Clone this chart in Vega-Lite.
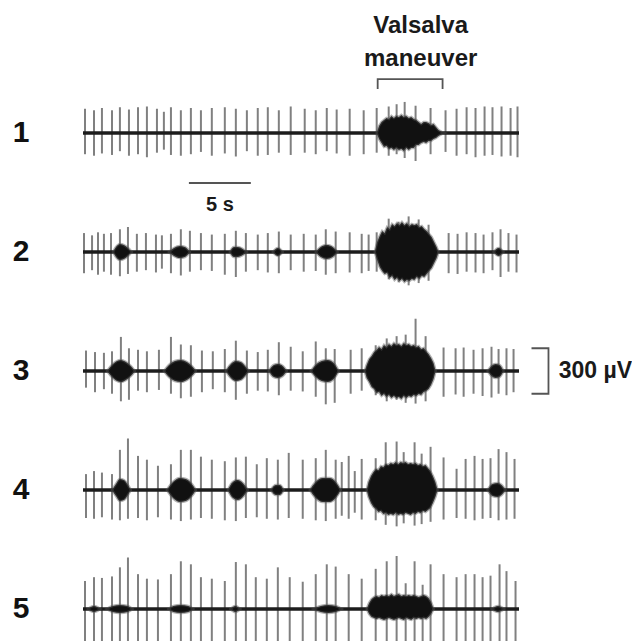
{
  "$schema": "https://vega.github.io/schema/vega-lite/v6.json",
  "background": "white",
  "padding": {"left": 12, "top": 14, "right": 0, "bottom": 0},
  "bounds": "flush",
  "config": {"view": {"stroke": null}, "font": "Liberation Sans"},
  "data": {"values": [
    {"trace":1,"kind":"base","t":0,"t2":35.2,"hi":0},
    {"trace":2,"kind":"base","t":0,"t2":35.2,"hi":0},
    {"trace":3,"kind":"base","t":0,"t2":35.2,"hi":0},
    {"trace":4,"kind":"base","t":0,"t2":35.2,"hi":0},
    {"trace":5,"kind":"base","t":0,"t2":35.2,"hi":0},

    {"trace":1,"kind":"spike","t":0.16,"hi":160,"lo":-140},
    {"trace":1,"kind":"spike","t":0.89,"hi":150,"lo":-150},
    {"trace":1,"kind":"spike","t":1.53,"hi":165,"lo":-135},
    {"trace":1,"kind":"spike","t":2.34,"hi":150,"lo":-145},
    {"trace":1,"kind":"spike","t":2.98,"hi":170,"lo":-120},
    {"trace":1,"kind":"spike","t":3.71,"hi":155,"lo":-150},
    {"trace":1,"kind":"spike","t":4.44,"hi":170,"lo":-140},
    {"trace":1,"kind":"spike","t":5.16,"hi":175,"lo":-160},
    {"trace":1,"kind":"spike","t":5.97,"hi":160,"lo":-130},
    {"trace":1,"kind":"spike","t":6.53,"hi":140,"lo":-110},
    {"trace":1,"kind":"spike","t":7.10,"hi":170,"lo":-145},
    {"trace":1,"kind":"spike","t":7.90,"hi":150,"lo":-150},
    {"trace":1,"kind":"spike","t":8.71,"hi":165,"lo":-140},
    {"trace":1,"kind":"spike","t":9.52,"hi":150,"lo":-125},
    {"trace":1,"kind":"spike","t":10.40,"hi":165,"lo":-150},
    {"trace":1,"kind":"spike","t":11.45,"hi":170,"lo":-135},
    {"trace":1,"kind":"spike","t":12.34,"hi":160,"lo":-155},
    {"trace":1,"kind":"spike","t":13.23,"hi":150,"lo":-120},
    {"trace":1,"kind":"spike","t":14.11,"hi":165,"lo":-150},
    {"trace":1,"kind":"spike","t":14.92,"hi":170,"lo":-145},
    {"trace":1,"kind":"spike","t":15.81,"hi":150,"lo":-130},
    {"trace":1,"kind":"spike","t":16.77,"hi":175,"lo":-145},
    {"trace":1,"kind":"spike","t":17.90,"hi":160,"lo":-130},
    {"trace":1,"kind":"spike","t":18.79,"hi":150,"lo":-140},
    {"trace":1,"kind":"spike","t":19.68,"hi":165,"lo":-120},
    {"trace":1,"kind":"spike","t":20.48,"hi":155,"lo":-135},
    {"trace":1,"kind":"spike","t":21.53,"hi":160,"lo":-150},
    {"trace":1,"kind":"spike","t":22.66,"hi":150,"lo":-140},
    {"trace":1,"kind":"spike","t":23.71,"hi":165,"lo":-130},
    {"trace":1,"kind":"spike","t":24.68,"hi":175,"lo":-150},
    {"trace":1,"kind":"spike","t":25.32,"hi":190,"lo":-140},
    {"trace":1,"kind":"spike","t":25.97,"hi":205,"lo":-165},
    {"trace":1,"kind":"spike","t":26.85,"hi":180,"lo":-185},
    {"trace":1,"kind":"spike","t":28.06,"hi":165,"lo":-140},
    {"trace":1,"kind":"spike","t":29.27,"hi":150,"lo":-125},
    {"trace":1,"kind":"spike","t":30.16,"hi":160,"lo":-150},
    {"trace":1,"kind":"spike","t":30.97,"hi":170,"lo":-140},
    {"trace":1,"kind":"spike","t":31.69,"hi":165,"lo":-160},
    {"trace":1,"kind":"spike","t":32.42,"hi":175,"lo":-150},
    {"trace":1,"kind":"spike","t":33.06,"hi":170,"lo":-145},
    {"trace":1,"kind":"spike","t":33.79,"hi":175,"lo":-155},
    {"trace":1,"kind":"spike","t":34.52,"hi":165,"lo":-150},
    {"trace":1,"kind":"spike","t":35.08,"hi":175,"lo":-160},

    {"trace":2,"kind":"spike","t":0.08,"hi":125,"lo":-140},
    {"trace":2,"kind":"spike","t":0.73,"hi":110,"lo":-120},
    {"trace":2,"kind":"spike","t":1.21,"hi":130,"lo":-150},
    {"trace":2,"kind":"spike","t":1.69,"hi":120,"lo":-130},
    {"trace":2,"kind":"spike","t":2.26,"hi":125,"lo":-150},
    {"trace":2,"kind":"spike","t":2.98,"hi":150,"lo":-160},
    {"trace":2,"kind":"spike","t":3.63,"hi":165,"lo":-145},
    {"trace":2,"kind":"spike","t":4.35,"hi":120,"lo":-130},
    {"trace":2,"kind":"spike","t":5.08,"hi":125,"lo":-120},
    {"trace":2,"kind":"spike","t":5.89,"hi":115,"lo":-135},
    {"trace":2,"kind":"spike","t":6.37,"hi":110,"lo":-110},
    {"trace":2,"kind":"spike","t":7.10,"hi":120,"lo":-140},
    {"trace":2,"kind":"spike","t":7.90,"hi":150,"lo":-155},
    {"trace":2,"kind":"spike","t":8.63,"hi":140,"lo":-130},
    {"trace":2,"kind":"spike","t":9.52,"hi":125,"lo":-120},
    {"trace":2,"kind":"spike","t":10.40,"hi":115,"lo":-125},
    {"trace":2,"kind":"spike","t":11.45,"hi":120,"lo":-150},
    {"trace":2,"kind":"spike","t":12.34,"hi":140,"lo":-165},
    {"trace":2,"kind":"spike","t":13.15,"hi":125,"lo":-130},
    {"trace":2,"kind":"spike","t":14.11,"hi":115,"lo":-120},
    {"trace":2,"kind":"spike","t":14.92,"hi":125,"lo":-135},
    {"trace":2,"kind":"spike","t":15.81,"hi":135,"lo":-140},
    {"trace":2,"kind":"spike","t":16.77,"hi":115,"lo":-120},
    {"trace":2,"kind":"spike","t":17.82,"hi":120,"lo":-130},
    {"trace":2,"kind":"spike","t":18.79,"hi":115,"lo":-125},
    {"trace":2,"kind":"spike","t":19.60,"hi":150,"lo":-150},
    {"trace":2,"kind":"spike","t":20.40,"hi":135,"lo":-140},
    {"trace":2,"kind":"spike","t":21.53,"hi":130,"lo":-135},
    {"trace":2,"kind":"spike","t":22.50,"hi":120,"lo":-140},
    {"trace":2,"kind":"spike","t":23.06,"hi":115,"lo":-125},
    {"trace":2,"kind":"spike","t":23.71,"hi":130,"lo":-130},
    {"trace":2,"kind":"spike","t":24.68,"hi":220,"lo":-180},
    {"trace":2,"kind":"spike","t":25.48,"hi":200,"lo":-200},
    {"trace":2,"kind":"spike","t":26.29,"hi":235,"lo":-220},
    {"trace":2,"kind":"spike","t":27.10,"hi":215,"lo":-205},
    {"trace":2,"kind":"spike","t":27.90,"hi":180,"lo":-190},
    {"trace":2,"kind":"spike","t":29.52,"hi":125,"lo":-140},
    {"trace":2,"kind":"spike","t":30.24,"hi":120,"lo":-145},
    {"trace":2,"kind":"spike","t":30.97,"hi":130,"lo":-130},
    {"trace":2,"kind":"spike","t":31.69,"hi":125,"lo":-135},
    {"trace":2,"kind":"spike","t":32.34,"hi":115,"lo":-140},
    {"trace":2,"kind":"spike","t":33.06,"hi":130,"lo":-120},
    {"trace":2,"kind":"spike","t":33.71,"hi":150,"lo":-165},
    {"trace":2,"kind":"spike","t":34.35,"hi":125,"lo":-130},
    {"trace":2,"kind":"spike","t":35.00,"hi":115,"lo":-135},

    {"trace":3,"kind":"spike","t":0.24,"hi":135,"lo":-110},
    {"trace":3,"kind":"spike","t":0.97,"hi":125,"lo":-140},
    {"trace":3,"kind":"spike","t":1.69,"hi":120,"lo":-120},
    {"trace":3,"kind":"spike","t":2.34,"hi":130,"lo":-150},
    {"trace":3,"kind":"spike","t":3.06,"hi":225,"lo":-200},
    {"trace":3,"kind":"spike","t":3.71,"hi":150,"lo":-190},
    {"trace":3,"kind":"spike","t":4.44,"hi":140,"lo":-130},
    {"trace":3,"kind":"spike","t":5.16,"hi":130,"lo":-140},
    {"trace":3,"kind":"spike","t":6.13,"hi":140,"lo":-125},
    {"trace":3,"kind":"spike","t":7.10,"hi":225,"lo":-150},
    {"trace":3,"kind":"spike","t":7.90,"hi":175,"lo":-180},
    {"trace":3,"kind":"spike","t":8.71,"hi":170,"lo":-170},
    {"trace":3,"kind":"spike","t":9.60,"hi":135,"lo":-140},
    {"trace":3,"kind":"spike","t":10.48,"hi":130,"lo":-120},
    {"trace":3,"kind":"spike","t":11.45,"hi":145,"lo":-140},
    {"trace":3,"kind":"spike","t":12.34,"hi":200,"lo":-190},
    {"trace":3,"kind":"spike","t":13.23,"hi":135,"lo":-150},
    {"trace":3,"kind":"spike","t":14.11,"hi":125,"lo":-130},
    {"trace":3,"kind":"spike","t":14.92,"hi":140,"lo":-135},
    {"trace":3,"kind":"spike","t":15.81,"hi":190,"lo":-160},
    {"trace":3,"kind":"spike","t":16.77,"hi":160,"lo":-130},
    {"trace":3,"kind":"spike","t":17.74,"hi":130,"lo":-135},
    {"trace":3,"kind":"spike","t":18.79,"hi":195,"lo":-170},
    {"trace":3,"kind":"spike","t":19.60,"hi":150,"lo":-220},
    {"trace":3,"kind":"spike","t":20.32,"hi":145,"lo":-210},
    {"trace":3,"kind":"spike","t":21.61,"hi":140,"lo":-150},
    {"trace":3,"kind":"spike","t":22.50,"hi":150,"lo":-130},
    {"trace":3,"kind":"spike","t":23.63,"hi":170,"lo":-160},
    {"trace":3,"kind":"spike","t":24.52,"hi":215,"lo":-200},
    {"trace":3,"kind":"spike","t":25.32,"hi":230,"lo":-190},
    {"trace":3,"kind":"spike","t":26.05,"hi":240,"lo":-210},
    {"trace":3,"kind":"spike","t":26.85,"hi":345,"lo":-215},
    {"trace":3,"kind":"spike","t":27.66,"hi":230,"lo":-200},
    {"trace":3,"kind":"spike","t":29.11,"hi":155,"lo":-170},
    {"trace":3,"kind":"spike","t":30.08,"hi":150,"lo":-155},
    {"trace":3,"kind":"spike","t":30.73,"hi":155,"lo":-170},
    {"trace":3,"kind":"spike","t":31.53,"hi":140,"lo":-150},
    {"trace":3,"kind":"spike","t":32.26,"hi":150,"lo":-165},
    {"trace":3,"kind":"spike","t":32.98,"hi":160,"lo":-175},
    {"trace":3,"kind":"spike","t":33.55,"hi":145,"lo":-150},
    {"trace":3,"kind":"spike","t":34.19,"hi":150,"lo":-160},
    {"trace":3,"kind":"spike","t":34.76,"hi":145,"lo":-140},

    {"trace":4,"kind":"spike","t":0.24,"hi":105,"lo":-185},
    {"trace":4,"kind":"spike","t":0.89,"hi":125,"lo":-190},
    {"trace":4,"kind":"spike","t":1.53,"hi":115,"lo":-180},
    {"trace":4,"kind":"spike","t":2.34,"hi":105,"lo":-195},
    {"trace":4,"kind":"spike","t":2.98,"hi":265,"lo":-200},
    {"trace":4,"kind":"spike","t":3.63,"hi":340,"lo":-190},
    {"trace":4,"kind":"spike","t":4.44,"hi":225,"lo":-185},
    {"trace":4,"kind":"spike","t":5.16,"hi":200,"lo":-200},
    {"trace":4,"kind":"spike","t":6.05,"hi":160,"lo":-180},
    {"trace":4,"kind":"spike","t":7.10,"hi":170,"lo":-195},
    {"trace":4,"kind":"spike","t":7.90,"hi":265,"lo":-205},
    {"trace":4,"kind":"spike","t":8.71,"hi":265,"lo":-195},
    {"trace":4,"kind":"spike","t":9.52,"hi":220,"lo":-185},
    {"trace":4,"kind":"spike","t":10.40,"hi":200,"lo":-190},
    {"trace":4,"kind":"spike","t":11.45,"hi":190,"lo":-200},
    {"trace":4,"kind":"spike","t":12.34,"hi":215,"lo":-205},
    {"trace":4,"kind":"spike","t":13.15,"hi":220,"lo":-185},
    {"trace":4,"kind":"spike","t":14.03,"hi":170,"lo":-180},
    {"trace":4,"kind":"spike","t":14.84,"hi":210,"lo":-190},
    {"trace":4,"kind":"spike","t":15.73,"hi":200,"lo":-195},
    {"trace":4,"kind":"spike","t":16.61,"hi":245,"lo":-185},
    {"trace":4,"kind":"spike","t":17.74,"hi":200,"lo":-190},
    {"trace":4,"kind":"spike","t":18.79,"hi":210,"lo":-200},
    {"trace":4,"kind":"spike","t":19.60,"hi":265,"lo":-205},
    {"trace":4,"kind":"spike","t":20.40,"hi":200,"lo":-190},
    {"trace":4,"kind":"spike","t":20.89,"hi":185,"lo":-170},
    {"trace":4,"kind":"spike","t":21.45,"hi":225,"lo":-190},
    {"trace":4,"kind":"spike","t":21.94,"hi":125,"lo":-150},
    {"trace":4,"kind":"spike","t":22.50,"hi":205,"lo":-195},
    {"trace":4,"kind":"spike","t":23.63,"hi":210,"lo":-200},
    {"trace":4,"kind":"spike","t":24.44,"hi":315,"lo":-230},
    {"trace":4,"kind":"spike","t":25.32,"hi":320,"lo":-240},
    {"trace":4,"kind":"spike","t":25.89,"hi":250,"lo":-220},
    {"trace":4,"kind":"spike","t":26.77,"hi":315,"lo":-235},
    {"trace":4,"kind":"spike","t":27.34,"hi":240,"lo":-225},
    {"trace":4,"kind":"spike","t":28.06,"hi":285,"lo":-210},
    {"trace":4,"kind":"spike","t":29.11,"hi":215,"lo":-195},
    {"trace":4,"kind":"spike","t":30.16,"hi":140,"lo":-185},
    {"trace":4,"kind":"spike","t":30.89,"hi":205,"lo":-190},
    {"trace":4,"kind":"spike","t":31.61,"hi":225,"lo":-200},
    {"trace":4,"kind":"spike","t":32.26,"hi":205,"lo":-190},
    {"trace":4,"kind":"spike","t":32.90,"hi":210,"lo":-185},
    {"trace":4,"kind":"spike","t":33.55,"hi":270,"lo":-200},
    {"trace":4,"kind":"spike","t":34.19,"hi":250,"lo":-195},
    {"trace":4,"kind":"spike","t":34.84,"hi":205,"lo":-190},

    {"trace":5,"kind":"spike","t":0.16,"hi":185,"lo":-240},
    {"trace":5,"kind":"spike","t":0.89,"hi":210,"lo":-250},
    {"trace":5,"kind":"spike","t":1.53,"hi":205,"lo":-235},
    {"trace":5,"kind":"spike","t":2.34,"hi":215,"lo":-245},
    {"trace":5,"kind":"spike","t":2.98,"hi":275,"lo":-250},
    {"trace":5,"kind":"spike","t":3.63,"hi":340,"lo":-240},
    {"trace":5,"kind":"spike","t":4.44,"hi":230,"lo":-250},
    {"trace":5,"kind":"spike","t":5.16,"hi":200,"lo":-235},
    {"trace":5,"kind":"spike","t":6.05,"hi":195,"lo":-245},
    {"trace":5,"kind":"spike","t":7.10,"hi":230,"lo":-250},
    {"trace":5,"kind":"spike","t":7.90,"hi":315,"lo":-245},
    {"trace":5,"kind":"spike","t":8.71,"hi":295,"lo":-240},
    {"trace":5,"kind":"spike","t":9.52,"hi":210,"lo":-250},
    {"trace":5,"kind":"spike","t":10.40,"hi":200,"lo":-245},
    {"trace":5,"kind":"spike","t":11.45,"hi":185,"lo":-240},
    {"trace":5,"kind":"spike","t":12.34,"hi":310,"lo":-250},
    {"trace":5,"kind":"spike","t":13.15,"hi":295,"lo":-245},
    {"trace":5,"kind":"spike","t":13.95,"hi":210,"lo":-240},
    {"trace":5,"kind":"spike","t":14.84,"hi":200,"lo":-250},
    {"trace":5,"kind":"spike","t":15.73,"hi":275,"lo":-245},
    {"trace":5,"kind":"spike","t":16.69,"hi":210,"lo":-240},
    {"trace":5,"kind":"spike","t":17.74,"hi":180,"lo":-250},
    {"trace":5,"kind":"spike","t":18.79,"hi":230,"lo":-245},
    {"trace":5,"kind":"spike","t":19.68,"hi":295,"lo":-240},
    {"trace":5,"kind":"spike","t":20.40,"hi":280,"lo":-250},
    {"trace":5,"kind":"spike","t":21.45,"hi":230,"lo":-245},
    {"trace":5,"kind":"spike","t":22.50,"hi":200,"lo":-250},
    {"trace":5,"kind":"spike","t":23.63,"hi":265,"lo":-240},
    {"trace":5,"kind":"spike","t":24.52,"hi":315,"lo":-250},
    {"trace":5,"kind":"spike","t":25.32,"hi":350,"lo":-245},
    {"trace":5,"kind":"spike","t":26.05,"hi":170,"lo":-240},
    {"trace":5,"kind":"spike","t":26.77,"hi":315,"lo":-250},
    {"trace":5,"kind":"spike","t":27.42,"hi":160,"lo":-245},
    {"trace":5,"kind":"spike","t":28.06,"hi":295,"lo":-240},
    {"trace":5,"kind":"spike","t":29.11,"hi":230,"lo":-250},
    {"trace":5,"kind":"spike","t":30.16,"hi":210,"lo":-245},
    {"trace":5,"kind":"spike","t":30.89,"hi":230,"lo":-240},
    {"trace":5,"kind":"spike","t":31.61,"hi":230,"lo":-250},
    {"trace":5,"kind":"spike","t":32.26,"hi":210,"lo":-245},
    {"trace":5,"kind":"spike","t":32.90,"hi":220,"lo":-240},
    {"trace":5,"kind":"spike","t":33.63,"hi":295,"lo":-250},
    {"trace":5,"kind":"spike","t":34.19,"hi":250,"lo":-245},
    {"trace":5,"kind":"spike","t":34.92,"hi":185,"lo":-240},

    {"trace":1,"kind":"episode","burst":"1v","t":23.71,"hi":0,"lo":0},
    {"trace":1,"kind":"episode","burst":"1v","t":23.90,"hi":46,"lo":-40},
    {"trace":1,"kind":"episode","burst":"1v","t":24.10,"hi":72,"lo":-66},
    {"trace":1,"kind":"episode","burst":"1v","t":24.30,"hi":86,"lo":-92},
    {"trace":1,"kind":"episode","burst":"1v","t":24.50,"hi":99,"lo":-86},
    {"trace":1,"kind":"episode","burst":"1v","t":24.70,"hi":92,"lo":-106},
    {"trace":1,"kind":"episode","burst":"1v","t":24.90,"hi":112,"lo":-99},
    {"trace":1,"kind":"episode","burst":"1v","t":25.10,"hi":99,"lo":-112},
    {"trace":1,"kind":"episode","burst":"1v","t":25.30,"hi":112,"lo":-99},
    {"trace":1,"kind":"episode","burst":"1v","t":25.50,"hi":106,"lo":-112},
    {"trace":1,"kind":"episode","burst":"1v","t":25.70,"hi":119,"lo":-106},
    {"trace":1,"kind":"episode","burst":"1v","t":25.90,"hi":106,"lo":-119},
    {"trace":1,"kind":"episode","burst":"1v","t":26.10,"hi":112,"lo":-99},
    {"trace":1,"kind":"episode","burst":"1v","t":26.30,"hi":99,"lo":-112},
    {"trace":1,"kind":"episode","burst":"1v","t":26.50,"hi":106,"lo":-99},
    {"trace":1,"kind":"episode","burst":"1v","t":26.70,"hi":92,"lo":-99},
    {"trace":1,"kind":"episode","burst":"1v","t":26.90,"hi":86,"lo":-79},
    {"trace":1,"kind":"episode","burst":"1v","t":27.10,"hi":72,"lo":-79},
    {"trace":1,"kind":"episode","burst":"1v","t":27.30,"hi":59,"lo":-66},
    {"trace":1,"kind":"episode","burst":"1v","t":27.50,"hi":72,"lo":-59},
    {"trace":1,"kind":"episode","burst":"1v","t":27.70,"hi":72,"lo":-66},
    {"trace":1,"kind":"episode","burst":"1v","t":27.90,"hi":66,"lo":-53},
    {"trace":1,"kind":"episode","burst":"1v","t":28.10,"hi":53,"lo":-53},
    {"trace":1,"kind":"episode","burst":"1v","t":28.30,"hi":59,"lo":-40},
    {"trace":1,"kind":"episode","burst":"1v","t":28.50,"hi":40,"lo":-33},
    {"trace":1,"kind":"episode","burst":"1v","t":28.70,"hi":20,"lo":-20},
    {"trace":1,"kind":"episode","burst":"1v","t":28.95,"hi":8,"lo":-8},
    {"trace":1,"kind":"episode","burst":"1v","t":29.19,"hi":0,"lo":0},

    {"trace":2,"kind":"episode","burst":"2v","t":23.55,"hi":0,"lo":0},
    {"trace":2,"kind":"episode","burst":"2v","t":23.75,"hi":66,"lo":-53},
    {"trace":2,"kind":"episode","burst":"2v","t":23.95,"hi":106,"lo":-99},
    {"trace":2,"kind":"episode","burst":"2v","t":24.15,"hi":139,"lo":-125},
    {"trace":2,"kind":"episode","burst":"2v","t":24.35,"hi":125,"lo":-145},
    {"trace":2,"kind":"episode","burst":"2v","t":24.55,"hi":165,"lo":-139},
    {"trace":2,"kind":"episode","burst":"2v","t":24.75,"hi":152,"lo":-172},
    {"trace":2,"kind":"episode","burst":"2v","t":24.95,"hi":185,"lo":-158},
    {"trace":2,"kind":"episode","burst":"2v","t":25.15,"hi":172,"lo":-185},
    {"trace":2,"kind":"episode","burst":"2v","t":25.35,"hi":192,"lo":-172},
    {"trace":2,"kind":"episode","burst":"2v","t":25.55,"hi":178,"lo":-192},
    {"trace":2,"kind":"episode","burst":"2v","t":25.75,"hi":198,"lo":-178},
    {"trace":2,"kind":"episode","burst":"2v","t":25.95,"hi":178,"lo":-198},
    {"trace":2,"kind":"episode","burst":"2v","t":26.15,"hi":192,"lo":-185},
    {"trace":2,"kind":"episode","burst":"2v","t":26.35,"hi":172,"lo":-192},
    {"trace":2,"kind":"episode","burst":"2v","t":26.55,"hi":185,"lo":-178},
    {"trace":2,"kind":"episode","burst":"2v","t":26.75,"hi":178,"lo":-185},
    {"trace":2,"kind":"episode","burst":"2v","t":26.95,"hi":185,"lo":-165},
    {"trace":2,"kind":"episode","burst":"2v","t":27.15,"hi":165,"lo":-178},
    {"trace":2,"kind":"episode","burst":"2v","t":27.35,"hi":172,"lo":-158},
    {"trace":2,"kind":"episode","burst":"2v","t":27.55,"hi":152,"lo":-165},
    {"trace":2,"kind":"episode","burst":"2v","t":27.75,"hi":139,"lo":-145},
    {"trace":2,"kind":"episode","burst":"2v","t":27.95,"hi":119,"lo":-125},
    {"trace":2,"kind":"episode","burst":"2v","t":28.15,"hi":99,"lo":-106},
    {"trace":2,"kind":"episode","burst":"2v","t":28.35,"hi":66,"lo":-72},
    {"trace":2,"kind":"episode","burst":"2v","t":28.55,"hi":33,"lo":-40},
    {"trace":2,"kind":"episode","burst":"2v","t":28.71,"hi":0,"lo":0},

    {"trace":3,"kind":"episode","burst":"3v","t":22.74,"hi":0,"lo":0},
    {"trace":3,"kind":"episode","burst":"3v","t":22.90,"hi":40,"lo":-46},
    {"trace":3,"kind":"episode","burst":"3v","t":23.10,"hi":79,"lo":-72},
    {"trace":3,"kind":"episode","burst":"3v","t":23.30,"hi":99,"lo":-106},
    {"trace":3,"kind":"episode","burst":"3v","t":23.50,"hi":125,"lo":-119},
    {"trace":3,"kind":"episode","burst":"3v","t":23.70,"hi":139,"lo":-145},
    {"trace":3,"kind":"episode","burst":"3v","t":23.90,"hi":158,"lo":-139},
    {"trace":3,"kind":"episode","burst":"3v","t":24.10,"hi":145,"lo":-165},
    {"trace":3,"kind":"episode","burst":"3v","t":24.30,"hi":172,"lo":-152},
    {"trace":3,"kind":"episode","burst":"3v","t":24.50,"hi":158,"lo":-172},
    {"trace":3,"kind":"episode","burst":"3v","t":24.70,"hi":178,"lo":-158},
    {"trace":3,"kind":"episode","burst":"3v","t":24.90,"hi":165,"lo":-178},
    {"trace":3,"kind":"episode","burst":"3v","t":25.10,"hi":185,"lo":-165},
    {"trace":3,"kind":"episode","burst":"3v","t":25.30,"hi":172,"lo":-178},
    {"trace":3,"kind":"episode","burst":"3v","t":25.50,"hi":178,"lo":-172},
    {"trace":3,"kind":"episode","burst":"3v","t":25.70,"hi":165,"lo":-185},
    {"trace":3,"kind":"episode","burst":"3v","t":25.90,"hi":185,"lo":-165},
    {"trace":3,"kind":"episode","burst":"3v","t":26.10,"hi":172,"lo":-178},
    {"trace":3,"kind":"episode","burst":"3v","t":26.30,"hi":178,"lo":-165},
    {"trace":3,"kind":"episode","burst":"3v","t":26.50,"hi":165,"lo":-172},
    {"trace":3,"kind":"episode","burst":"3v","t":26.70,"hi":172,"lo":-158},
    {"trace":3,"kind":"episode","burst":"3v","t":26.90,"hi":158,"lo":-165},
    {"trace":3,"kind":"episode","burst":"3v","t":27.10,"hi":165,"lo":-152},
    {"trace":3,"kind":"episode","burst":"3v","t":27.30,"hi":145,"lo":-158},
    {"trace":3,"kind":"episode","burst":"3v","t":27.50,"hi":152,"lo":-139},
    {"trace":3,"kind":"episode","burst":"3v","t":27.70,"hi":132,"lo":-132},
    {"trace":3,"kind":"episode","burst":"3v","t":27.90,"hi":112,"lo":-119},
    {"trace":3,"kind":"episode","burst":"3v","t":28.10,"hi":86,"lo":-92},
    {"trace":3,"kind":"episode","burst":"3v","t":28.30,"hi":53,"lo":-53},
    {"trace":3,"kind":"episode","burst":"3v","t":28.47,"hi":0,"lo":0},

    {"trace":4,"kind":"episode","burst":"4v","t":22.90,"hi":0,"lo":0},
    {"trace":4,"kind":"episode","burst":"4v","t":23.05,"hi":53,"lo":-46},
    {"trace":4,"kind":"episode","burst":"4v","t":23.25,"hi":92,"lo":-86},
    {"trace":4,"kind":"episode","burst":"4v","t":23.45,"hi":119,"lo":-112},
    {"trace":4,"kind":"episode","burst":"4v","t":23.65,"hi":139,"lo":-125},
    {"trace":4,"kind":"episode","burst":"4v","t":23.85,"hi":132,"lo":-145},
    {"trace":4,"kind":"episode","burst":"4v","t":24.05,"hi":158,"lo":-139},
    {"trace":4,"kind":"episode","burst":"4v","t":24.25,"hi":152,"lo":-158},
    {"trace":4,"kind":"episode","burst":"4v","t":24.45,"hi":172,"lo":-152},
    {"trace":4,"kind":"episode","burst":"4v","t":24.65,"hi":165,"lo":-165},
    {"trace":4,"kind":"episode","burst":"4v","t":24.85,"hi":178,"lo":-158},
    {"trace":4,"kind":"episode","burst":"4v","t":25.05,"hi":172,"lo":-165},
    {"trace":4,"kind":"episode","burst":"4v","t":25.25,"hi":185,"lo":-152},
    {"trace":4,"kind":"episode","burst":"4v","t":25.45,"hi":172,"lo":-165},
    {"trace":4,"kind":"episode","burst":"4v","t":25.65,"hi":185,"lo":-158},
    {"trace":4,"kind":"episode","burst":"4v","t":25.85,"hi":178,"lo":-165},
    {"trace":4,"kind":"episode","burst":"4v","t":26.05,"hi":185,"lo":-152},
    {"trace":4,"kind":"episode","burst":"4v","t":26.25,"hi":172,"lo":-158},
    {"trace":4,"kind":"episode","burst":"4v","t":26.45,"hi":178,"lo":-165},
    {"trace":4,"kind":"episode","burst":"4v","t":26.65,"hi":172,"lo":-152},
    {"trace":4,"kind":"episode","burst":"4v","t":26.85,"hi":178,"lo":-158},
    {"trace":4,"kind":"episode","burst":"4v","t":27.05,"hi":165,"lo":-145},
    {"trace":4,"kind":"episode","burst":"4v","t":27.25,"hi":172,"lo":-152},
    {"trace":4,"kind":"episode","burst":"4v","t":27.45,"hi":158,"lo":-139},
    {"trace":4,"kind":"episode","burst":"4v","t":27.65,"hi":165,"lo":-145},
    {"trace":4,"kind":"episode","burst":"4v","t":27.85,"hi":145,"lo":-132},
    {"trace":4,"kind":"episode","burst":"4v","t":28.05,"hi":125,"lo":-119},
    {"trace":4,"kind":"episode","burst":"4v","t":28.25,"hi":92,"lo":-86},
    {"trace":4,"kind":"episode","burst":"4v","t":28.45,"hi":53,"lo":-46},
    {"trace":4,"kind":"episode","burst":"4v","t":28.63,"hi":0,"lo":0},

    {"trace":5,"kind":"episode","burst":"5v","t":22.90,"hi":0,"lo":0},
    {"trace":5,"kind":"episode","burst":"5v","t":23.10,"hi":40,"lo":-33},
    {"trace":5,"kind":"episode","burst":"5v","t":23.30,"hi":66,"lo":-53},
    {"trace":5,"kind":"episode","burst":"5v","t":23.50,"hi":79,"lo":-59},
    {"trace":5,"kind":"episode","burst":"5v","t":23.70,"hi":86,"lo":-66},
    {"trace":5,"kind":"episode","burst":"5v","t":23.90,"hi":79,"lo":-59},
    {"trace":5,"kind":"episode","burst":"5v","t":24.10,"hi":92,"lo":-66},
    {"trace":5,"kind":"episode","burst":"5v","t":24.30,"hi":86,"lo":-72},
    {"trace":5,"kind":"episode","burst":"5v","t":24.50,"hi":92,"lo":-66},
    {"trace":5,"kind":"episode","burst":"5v","t":24.70,"hi":86,"lo":-59},
    {"trace":5,"kind":"episode","burst":"5v","t":24.90,"hi":99,"lo":-66},
    {"trace":5,"kind":"episode","burst":"5v","t":25.10,"hi":86,"lo":-72},
    {"trace":5,"kind":"episode","burst":"5v","t":25.30,"hi":92,"lo":-66},
    {"trace":5,"kind":"episode","burst":"5v","t":25.50,"hi":99,"lo":-59},
    {"trace":5,"kind":"episode","burst":"5v","t":25.70,"hi":86,"lo":-66},
    {"trace":5,"kind":"episode","burst":"5v","t":25.90,"hi":92,"lo":-72},
    {"trace":5,"kind":"episode","burst":"5v","t":26.10,"hi":86,"lo":-59},
    {"trace":5,"kind":"episode","burst":"5v","t":26.30,"hi":92,"lo":-66},
    {"trace":5,"kind":"episode","burst":"5v","t":26.50,"hi":86,"lo":-72},
    {"trace":5,"kind":"episode","burst":"5v","t":26.70,"hi":92,"lo":-59},
    {"trace":5,"kind":"episode","burst":"5v","t":26.90,"hi":86,"lo":-66},
    {"trace":5,"kind":"episode","burst":"5v","t":27.10,"hi":79,"lo":-59},
    {"trace":5,"kind":"episode","burst":"5v","t":27.30,"hi":86,"lo":-66},
    {"trace":5,"kind":"episode","burst":"5v","t":27.50,"hi":92,"lo":-59},
    {"trace":5,"kind":"episode","burst":"5v","t":27.70,"hi":86,"lo":-66},
    {"trace":5,"kind":"episode","burst":"5v","t":27.90,"hi":72,"lo":-53},
    {"trace":5,"kind":"episode","burst":"5v","t":28.10,"hi":46,"lo":-33},
    {"trace":5,"kind":"episode","burst":"5v","t":28.31,"hi":0,"lo":0},

    {"trace":2,"kind":"burst","burst":"2a","t":2.42,"hi":0,"lo":0},
    {"trace":2,"kind":"burst","burst":"2a","t":2.66,"hi":33,"lo":-33},
    {"trace":2,"kind":"burst","burst":"2a","t":2.98,"hi":53,"lo":-53},
    {"trace":2,"kind":"burst","burst":"2a","t":3.31,"hi":46,"lo":-46},
    {"trace":2,"kind":"burst","burst":"2a","t":3.63,"hi":26,"lo":-26},
    {"trace":2,"kind":"burst","burst":"2a","t":3.95,"hi":0,"lo":0},
    {"trace":2,"kind":"burst","burst":"2b","t":6.94,"hi":0,"lo":0},
    {"trace":2,"kind":"burst","burst":"2b","t":7.34,"hi":26,"lo":-26},
    {"trace":2,"kind":"burst","burst":"2b","t":7.82,"hi":40,"lo":-40},
    {"trace":2,"kind":"burst","burst":"2b","t":8.23,"hi":33,"lo":-33},
    {"trace":2,"kind":"burst","burst":"2b","t":8.63,"hi":0,"lo":0},
    {"trace":2,"kind":"burst","burst":"2c","t":11.85,"hi":0,"lo":0},
    {"trace":2,"kind":"burst","burst":"2c","t":12.18,"hi":33,"lo":-33},
    {"trace":2,"kind":"burst","burst":"2c","t":12.50,"hi":33,"lo":-33},
    {"trace":2,"kind":"burst","burst":"2c","t":12.90,"hi":20,"lo":-20},
    {"trace":2,"kind":"burst","burst":"2c","t":13.23,"hi":0,"lo":0},
    {"trace":2,"kind":"burst","burst":"2d","t":15.32,"hi":0,"lo":0},
    {"trace":2,"kind":"burst","burst":"2d","t":15.73,"hi":26,"lo":-26},
    {"trace":2,"kind":"burst","burst":"2d","t":16.13,"hi":0,"lo":0},
    {"trace":2,"kind":"burst","burst":"2e","t":18.79,"hi":0,"lo":0},
    {"trace":2,"kind":"burst","burst":"2e","t":19.19,"hi":33,"lo":-33},
    {"trace":2,"kind":"burst","burst":"2e","t":19.68,"hi":46,"lo":-46},
    {"trace":2,"kind":"burst","burst":"2e","t":20.16,"hi":33,"lo":-33},
    {"trace":2,"kind":"burst","burst":"2e","t":20.56,"hi":0,"lo":0},
    {"trace":2,"kind":"burst","burst":"2f","t":33.15,"hi":0,"lo":0},
    {"trace":2,"kind":"burst","burst":"2f","t":33.55,"hi":26,"lo":-26},
    {"trace":2,"kind":"burst","burst":"2f","t":33.95,"hi":0,"lo":0},

    {"trace":3,"kind":"burst","burst":"3a","t":1.94,"hi":0,"lo":0},
    {"trace":3,"kind":"burst","burst":"3a","t":2.34,"hi":40,"lo":-40},
    {"trace":3,"kind":"burst","burst":"3a","t":2.74,"hi":66,"lo":-66},
    {"trace":3,"kind":"burst","burst":"3a","t":3.06,"hi":73,"lo":-73},
    {"trace":3,"kind":"burst","burst":"3a","t":3.47,"hi":59,"lo":-59},
    {"trace":3,"kind":"burst","burst":"3a","t":3.87,"hi":33,"lo":-33},
    {"trace":3,"kind":"burst","burst":"3a","t":4.19,"hi":0,"lo":0},
    {"trace":3,"kind":"burst","burst":"3b","t":6.53,"hi":0,"lo":0},
    {"trace":3,"kind":"burst","burst":"3b","t":6.94,"hi":40,"lo":-40},
    {"trace":3,"kind":"burst","burst":"3b","t":7.42,"hi":66,"lo":-66},
    {"trace":3,"kind":"burst","burst":"3b","t":7.90,"hi":73,"lo":-73},
    {"trace":3,"kind":"burst","burst":"3b","t":8.39,"hi":59,"lo":-59},
    {"trace":3,"kind":"burst","burst":"3b","t":8.79,"hi":33,"lo":-33},
    {"trace":3,"kind":"burst","burst":"3b","t":9.11,"hi":0,"lo":0},
    {"trace":3,"kind":"burst","burst":"3c","t":11.53,"hi":0,"lo":0},
    {"trace":3,"kind":"burst","burst":"3c","t":11.94,"hi":46,"lo":-46},
    {"trace":3,"kind":"burst","burst":"3c","t":12.34,"hi":66,"lo":-66},
    {"trace":3,"kind":"burst","burst":"3c","t":12.74,"hi":59,"lo":-59},
    {"trace":3,"kind":"burst","burst":"3c","t":13.15,"hi":26,"lo":-26},
    {"trace":3,"kind":"burst","burst":"3c","t":13.39,"hi":0,"lo":0},
    {"trace":3,"kind":"burst","burst":"3d","t":15.00,"hi":0,"lo":0},
    {"trace":3,"kind":"burst","burst":"3d","t":15.40,"hi":40,"lo":-40},
    {"trace":3,"kind":"burst","burst":"3d","t":15.73,"hi":46,"lo":-46},
    {"trace":3,"kind":"burst","burst":"3d","t":16.13,"hi":33,"lo":-33},
    {"trace":3,"kind":"burst","burst":"3d","t":16.45,"hi":0,"lo":0},
    {"trace":3,"kind":"burst","burst":"3e","t":18.39,"hi":0,"lo":0},
    {"trace":3,"kind":"burst","burst":"3e","t":18.79,"hi":40,"lo":-40},
    {"trace":3,"kind":"burst","burst":"3e","t":19.27,"hi":66,"lo":-66},
    {"trace":3,"kind":"burst","burst":"3e","t":19.76,"hi":73,"lo":-73},
    {"trace":3,"kind":"burst","burst":"3e","t":20.24,"hi":53,"lo":-53},
    {"trace":3,"kind":"burst","burst":"3e","t":20.65,"hi":0,"lo":0},
    {"trace":3,"kind":"burst","burst":"3f","t":32.66,"hi":0,"lo":0},
    {"trace":3,"kind":"burst","burst":"3f","t":32.98,"hi":33,"lo":-33},
    {"trace":3,"kind":"burst","burst":"3f","t":33.31,"hi":46,"lo":-46},
    {"trace":3,"kind":"burst","burst":"3f","t":33.63,"hi":40,"lo":-40},
    {"trace":3,"kind":"burst","burst":"3f","t":33.95,"hi":0,"lo":0},

    {"trace":4,"kind":"burst","burst":"4a","t":2.34,"hi":0,"lo":0},
    {"trace":4,"kind":"burst","burst":"4a","t":2.66,"hi":40,"lo":-40},
    {"trace":4,"kind":"burst","burst":"4a","t":2.98,"hi":73,"lo":-73},
    {"trace":4,"kind":"burst","burst":"4a","t":3.31,"hi":66,"lo":-66},
    {"trace":4,"kind":"burst","burst":"4a","t":3.63,"hi":33,"lo":-33},
    {"trace":4,"kind":"burst","burst":"4a","t":3.87,"hi":0,"lo":0},
    {"trace":4,"kind":"burst","burst":"4b","t":6.77,"hi":0,"lo":0},
    {"trace":4,"kind":"burst","burst":"4b","t":7.26,"hi":53,"lo":-53},
    {"trace":4,"kind":"burst","burst":"4b","t":7.82,"hi":79,"lo":-79},
    {"trace":4,"kind":"burst","burst":"4b","t":8.31,"hi":73,"lo":-73},
    {"trace":4,"kind":"burst","burst":"4b","t":8.79,"hi":40,"lo":-40},
    {"trace":4,"kind":"burst","burst":"4b","t":9.11,"hi":0,"lo":0},
    {"trace":4,"kind":"burst","burst":"4c","t":11.69,"hi":0,"lo":0},
    {"trace":4,"kind":"burst","burst":"4c","t":12.10,"hi":53,"lo":-53},
    {"trace":4,"kind":"burst","burst":"4c","t":12.50,"hi":66,"lo":-66},
    {"trace":4,"kind":"burst","burst":"4c","t":12.90,"hi":46,"lo":-46},
    {"trace":4,"kind":"burst","burst":"4c","t":13.31,"hi":0,"lo":0},
    {"trace":4,"kind":"burst","burst":"4d","t":15.16,"hi":0,"lo":0},
    {"trace":4,"kind":"burst","burst":"4d","t":15.56,"hi":33,"lo":-33},
    {"trace":4,"kind":"burst","burst":"4d","t":15.89,"hi":33,"lo":-33},
    {"trace":4,"kind":"burst","burst":"4d","t":16.21,"hi":0,"lo":0},
    {"trace":4,"kind":"burst","burst":"4e","t":18.31,"hi":0,"lo":0},
    {"trace":4,"kind":"burst","burst":"4e","t":18.79,"hi":53,"lo":-53},
    {"trace":4,"kind":"burst","burst":"4e","t":19.35,"hi":79,"lo":-79},
    {"trace":4,"kind":"burst","burst":"4e","t":19.92,"hi":79,"lo":-79},
    {"trace":4,"kind":"burst","burst":"4e","t":20.40,"hi":53,"lo":-53},
    {"trace":4,"kind":"burst","burst":"4e","t":20.81,"hi":0,"lo":0},
    {"trace":4,"kind":"burst","burst":"4f","t":32.66,"hi":0,"lo":0},
    {"trace":4,"kind":"burst","burst":"4f","t":33.06,"hi":40,"lo":-40},
    {"trace":4,"kind":"burst","burst":"4f","t":33.47,"hi":46,"lo":-46},
    {"trace":4,"kind":"burst","burst":"4f","t":33.79,"hi":33,"lo":-33},
    {"trace":4,"kind":"burst","burst":"4f","t":34.11,"hi":0,"lo":0},

    {"trace":5,"kind":"burst","burst":"5a","t":0.40,"hi":0,"lo":0},
    {"trace":5,"kind":"burst","burst":"5a","t":0.89,"hi":20,"lo":-20},
    {"trace":5,"kind":"burst","burst":"5a","t":1.40,"hi":0,"lo":0},
    {"trace":5,"kind":"burst","burst":"5g","t":1.90,"hi":0,"lo":0},
    {"trace":5,"kind":"burst","burst":"5g","t":2.40,"hi":20,"lo":-20},
    {"trace":5,"kind":"burst","burst":"5g","t":2.98,"hi":26,"lo":-26},
    {"trace":5,"kind":"burst","burst":"5g","t":3.60,"hi":20,"lo":-20},
    {"trace":5,"kind":"burst","burst":"5g","t":4.00,"hi":0,"lo":0},
    {"trace":5,"kind":"burst","burst":"5b","t":6.90,"hi":0,"lo":0},
    {"trace":5,"kind":"burst","burst":"5b","t":7.30,"hi":20,"lo":-20},
    {"trace":5,"kind":"burst","burst":"5b","t":7.90,"hi":26,"lo":-26},
    {"trace":5,"kind":"burst","burst":"5b","t":8.50,"hi":20,"lo":-20},
    {"trace":5,"kind":"burst","burst":"5b","t":8.90,"hi":0,"lo":0},
    {"trace":5,"kind":"burst","burst":"5c","t":11.90,"hi":0,"lo":0},
    {"trace":5,"kind":"burst","burst":"5c","t":12.30,"hi":20,"lo":-20},
    {"trace":5,"kind":"burst","burst":"5c","t":12.70,"hi":0,"lo":0},
    {"trace":5,"kind":"burst","burst":"5d","t":18.60,"hi":0,"lo":0},
    {"trace":5,"kind":"burst","burst":"5d","t":19.20,"hi":20,"lo":-20},
    {"trace":5,"kind":"burst","burst":"5d","t":19.80,"hi":26,"lo":-26},
    {"trace":5,"kind":"burst","burst":"5d","t":20.40,"hi":20,"lo":-20},
    {"trace":5,"kind":"burst","burst":"5d","t":20.90,"hi":0,"lo":0},
    {"trace":5,"kind":"burst","burst":"5e","t":33.00,"hi":0,"lo":0},
    {"trace":5,"kind":"burst","burst":"5e","t":33.50,"hi":20,"lo":-20},
    {"trace":5,"kind":"burst","burst":"5e","t":34.00,"hi":0,"lo":0},

    {"trace":1,"kind":"bracket","grp":"valsalva","seq":1,"t":23.79,"hi":290},
    {"trace":1,"kind":"bracket","grp":"valsalva","seq":2,"t":23.79,"hi":356},
    {"trace":1,"kind":"bracket","grp":"valsalva","seq":3,"t":29.03,"hi":356},
    {"trace":1,"kind":"bracket","grp":"valsalva","seq":4,"t":29.03,"hi":290},
    {"trace":1,"kind":"bracket","grp":"bar5s","seq":1,"t":8.55,"hi":-330},
    {"trace":1,"kind":"bracket","grp":"bar5s","seq":2,"t":13.55,"hi":-330},
    {"trace":3,"kind":"bracket","grp":"cal300","seq":1,"t":36.21,"hi":150},
    {"trace":3,"kind":"bracket","grp":"cal300","seq":2,"t":37.58,"hi":150},
    {"trace":3,"kind":"bracket","grp":"cal300","seq":3,"t":37.58,"hi":-150},
    {"trace":3,"kind":"bracket","grp":"cal300","seq":4,"t":36.21,"hi":-150},

    {"trace":1,"kind":"title","t":27.26,"hi":660,"label":"Valsalva"},
    {"trace":1,"kind":"title","t":27.26,"hi":442,"label":"maneuver"},
    {"trace":1,"kind":"scale","t":11.05,"hi":-515,"label":"5 s"},
    {"trace":3,"kind":"cal","t":38.4,"hi":0,"label":"300 µV"}
  ]},
  "facet": {
    "row": {
      "field": "trace",
      "type": "ordinal",
      "header": {
        "title": null,
        "labelOrient": "left",
        "labelAngle": 0,
        "labelAlign": "right",
        "labelBaseline": "middle",
        "labelFont": "Liberation Sans",
        "labelFontSize": 30,
        "labelFontWeight": "bold",
        "labelColor": "#111111",
        "labelPadding": 37
      }
    }
  },
  "spacing": {"row": 19},
  "spec": {
    "width": 436,
    "height": 100,
    "encoding": {
      "x": {"field": "t", "type": "quantitative", "scale": {"domain": [0, 35.2], "nice": false, "zero": false}, "axis": null},
      "y": {"field": "hi", "type": "quantitative", "scale": {"domain": [-330, 330], "nice": false, "zero": false}, "axis": null}
    },
    "layer": [
      {
        "transform": [{"filter": "datum.kind === 'spike'"}],
        "mark": {"type": "rule", "color": "#6a6a6a", "strokeWidth": 2, "opacity": 0.85},
        "encoding": {"y2": {"field": "lo"}}
      },
      {
        "transform": [{"filter": "datum.kind === 'base'"}],
        "mark": {"type": "rule", "color": "#1c1c1c", "strokeWidth": 3.5},
        "encoding": {"x2": {"field": "t2"}}
      },
      {
        "transform": [{"filter": "datum.kind === 'burst'"}],
        "mark": {"type": "area", "color": "#111111", "interpolate": "monotone", "stroke": "#555555", "strokeWidth": 2.5, "strokeOpacity": 0.45},
        "encoding": {"y2": {"field": "lo"}, "detail": {"field": "burst"}}
      },
      {
        "transform": [{"filter": "datum.kind === 'episode'"}],
        "mark": {"type": "area", "color": "#111111", "interpolate": "linear", "stroke": "#555555", "strokeWidth": 2.5, "strokeOpacity": 0.45},
        "encoding": {"y2": {"field": "lo"}, "detail": {"field": "burst"}}
      },
      {
        "transform": [{"filter": "datum.kind === 'bracket'"}],
        "mark": {"type": "line", "color": "#555555", "strokeWidth": 1.8},
        "encoding": {"detail": {"field": "grp"}, "order": {"field": "seq"}}
      },
      {
        "transform": [{"filter": "datum.kind === 'title'"}],
        "mark": {"type": "text", "font": "Liberation Sans", "fontSize": 24, "fontWeight": "bold", "align": "center", "baseline": "alphabetic", "color": "#1a1a1a"},
        "encoding": {"text": {"field": "label"}}
      },
      {
        "transform": [{"filter": "datum.kind === 'scale'"}],
        "mark": {"type": "text", "font": "Liberation Sans", "fontSize": 20, "fontWeight": "bold", "align": "center", "baseline": "alphabetic", "color": "#1a1a1a"},
        "encoding": {"text": {"field": "label"}}
      },
      {
        "transform": [{"filter": "datum.kind === 'cal'"}],
        "mark": {"type": "text", "font": "Liberation Sans", "fontSize": 23, "fontWeight": "bold", "align": "left", "baseline": "middle", "color": "#1a1a1a"},
        "encoding": {"text": {"field": "label"}}
      }
    ]
  }
}
